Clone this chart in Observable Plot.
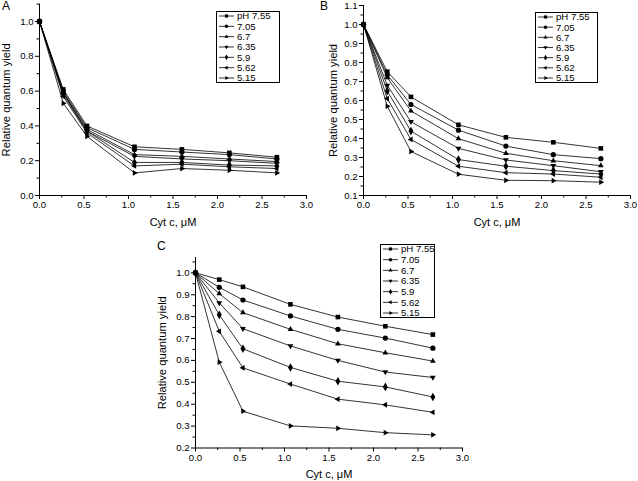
<!DOCTYPE html>
<html>
<head>
<meta charset="utf-8">
<script src="https://cdn.jsdelivr.net/npm/d3@7"></script>
<script src="https://cdn.jsdelivr.net/npm/@observablehq/plot@0.6"></script>
<style>
  html, body { margin: 0; padding: 0; background: #fff; }
  #wrap { position: relative; width: 638px; height: 481px; overflow: hidden; font-family: "Liberation Sans", Arial, sans-serif; }
  #wrap svg { position: absolute; overflow: visible; }
  .letter { position: absolute; font-size: 12px; color: #000; font-family: "Liberation Sans", Arial, sans-serif; }
</style>
</head>
<body>
<div id="wrap"></div>
<script>
// ---- data ----
const cytc = [0, 0.267, 0.533, 1.067, 1.6, 2.133, 2.667];
const seriesNames = ["pH 7.55", "7.05", "6.7", "6.35", "5.9", "5.62", "5.15"];

// Panel A (one row per series, in seriesNames order)
const yieldA_755 = [1.0, 0.61, 0.40, 0.28, 0.265, 0.245, 0.22];
const yieldA_705 = [1.0, 0.60, 0.39, 0.265, 0.25, 0.235, 0.21];
const yieldA_670 = [1.0, 0.59, 0.38, 0.235, 0.225, 0.21, 0.195];
const yieldA_635 = [1.0, 0.58, 0.37, 0.225, 0.21, 0.20, 0.185];
const yieldA_590 = [1.0, 0.59, 0.37, 0.19, 0.19, 0.175, 0.17];
const yieldA_562 = [1.0, 0.57, 0.36, 0.17, 0.18, 0.165, 0.155];
const yieldA_515 = [1.0, 0.53, 0.34, 0.13, 0.155, 0.145, 0.13];

// Panel B
const yieldB_755 = [1.0, 0.752, 0.619, 0.472, 0.406, 0.380, 0.348];
const yieldB_705 = [1.0, 0.735, 0.579, 0.444, 0.360, 0.315, 0.294];
const yieldB_670 = [1.0, 0.720, 0.545, 0.399, 0.322, 0.283, 0.257];
const yieldB_635 = [1.0, 0.680, 0.488, 0.348, 0.287, 0.257, 0.225];
const yieldB_590 = [1.0, 0.650, 0.439, 0.289, 0.254, 0.231, 0.213];
const yieldB_562 = [1.0, 0.610, 0.395, 0.254, 0.220, 0.213, 0.196];
const yieldB_515 = [1.0, 0.570, 0.332, 0.212, 0.180, 0.178, 0.170];

// Panel C
const yieldC_755 = [1.0, 0.969, 0.936, 0.856, 0.798, 0.756, 0.718];
const yieldC_705 = [1.0, 0.934, 0.876, 0.803, 0.742, 0.702, 0.656];
const yieldC_670 = [1.0, 0.905, 0.818, 0.742, 0.676, 0.635, 0.597];
const yieldC_635 = [1.0, 0.863, 0.745, 0.666, 0.600, 0.547, 0.522];
const yieldC_590 = [1.0, 0.808, 0.653, 0.568, 0.505, 0.479, 0.433];
const yieldC_562 = [1.0, 0.733, 0.566, 0.492, 0.423, 0.397, 0.363];
const yieldC_515 = [1.0, 0.592, 0.368, 0.301, 0.290, 0.270, 0.260];

const xMajor = [0, 0.5, 1, 1.5, 2, 2.5, 3];
const xMinor = [0.25, 0.75, 1.25, 1.75, 2.25, 2.75];
const yMajorA = [0, 0.2, 0.4, 0.6, 0.8, 1.0];
const yMinorA = [0.1, 0.3, 0.5, 0.7, 0.9, 1.1];
const yMajorB = [0.1, 0.2, 0.3, 0.4, 0.5, 0.6, 0.7, 0.8, 0.9, 1.0, 1.1];
const yMinorB = [0.15, 0.25, 0.35, 0.45, 0.55, 0.65, 0.75, 0.85, 0.95, 1.05];
const yMajorC = [0.2, 0.3, 0.4, 0.5, 0.6, 0.7, 0.8, 0.9, 1.0];
const yMinorC = [0.25, 0.35, 0.45, 0.55, 0.65, 0.75, 0.85, 0.95, 1.05];

// ---- symbols ----
const triDown = { draw(ctx, size) { const r = Math.sqrt(size) * 0.72; ctx.moveTo(0, r); ctx.lineTo(-r * 0.866, -r * 0.5); ctx.lineTo(r * 0.866, -r * 0.5); ctx.closePath(); } };
const triUp = { draw(ctx, size) { const r = Math.sqrt(size) * 0.72; ctx.moveTo(0, -r); ctx.lineTo(-r * 0.866, r * 0.5); ctx.lineTo(r * 0.866, r * 0.5); ctx.closePath(); } };
const triLeft = { draw(ctx, size) { const r = Math.sqrt(size) * 0.72; ctx.moveTo(-r, 0); ctx.lineTo(r * 0.5, -r * 0.866); ctx.lineTo(r * 0.5, r * 0.866); ctx.closePath(); } };
const triRight = { draw(ctx, size) { const r = Math.sqrt(size) * 0.72; ctx.moveTo(r, 0); ctx.lineTo(-r * 0.5, -r * 0.866); ctx.lineTo(-r * 0.5, r * 0.866); ctx.closePath(); } };
const symbols = [d3.symbolSquare, d3.symbolCircle, triUp, triDown, d3.symbolDiamond, triLeft, triRight];

function toRows(arrays) {
  const rows = [];
  arrays.forEach((ys, si) => ys.forEach((y, i) => rows.push({ s: si, x: cytc[i], y })));
  return rows;
}

const FONT = "Liberation Sans, Arial, sans-serif";
const fmt = d3.format(".1f");

function panel({ rows, yDomain, yMajor, yMinor, width, height, margins, left, top }) {
  const marks = [];
  marks.push(Plot.ruleX([0], { stroke: "#000", strokeWidth: 1 }));
  marks.push(Plot.ruleY([yDomain[0]], { stroke: "#000", strokeWidth: 1 }));
  marks.push(Plot.axisX({ ticks: xMajor, tickSize: 4, tickPadding: 2, tickFormat: fmt, fontSize: 9.6, label: null, stroke: "#000" }));
  marks.push(Plot.axisX({ ticks: xMinor, tickSize: 2.5, tickFormat: () => "", label: null, stroke: "#000" }));
  marks.push(Plot.axisY({ ticks: yMajor, tickSize: 4, tickPadding: 2, tickFormat: fmt, fontSize: 9.6, label: null, stroke: "#000" }));
  marks.push(Plot.axisY({ ticks: yMinor, tickSize: 2.5, tickFormat: () => "", label: null, stroke: "#000" }));
  for (let s = 0; s < seriesNames.length; s++) {
    const d = rows.filter(r => r.s === s);
    marks.push(Plot.line(d, { x: "x", y: "y", stroke: "#000", strokeWidth: 0.8 }));
    marks.push(Plot.dot(d, { x: "x", y: "y", symbol: symbols[s], r: 2.6, fill: "#000", stroke: "none" }));
  }
  marks.push(Plot.text(["Cyt c, \u03bcM"], { frameAnchor: "bottom", dy: 30, fontSize: 11, fill: "#000" }));
  marks.push(Plot.text(["Relative quantum yield"], { frameAnchor: "left", textAnchor: "middle", rotate: -90, dx: margins.yLabel, fontSize: 11.2, fill: "#000" }));
  const svg = Plot.plot({
    width, height,
    marginLeft: margins.left, marginRight: margins.right, marginTop: margins.top, marginBottom: margins.bottom,
    style: { fontFamily: FONT, color: "#000", background: "transparent" },
    x: { domain: [0, 3] },
    y: { domain: yDomain },
    marks
  });
  svg.style.left = left + "px";
  svg.style.top = top + "px";
  return svg;
}

function legend(container, x, y, w, h) {
  const svg = d3.select(container).append("svg")
    .attr("width", w + 2).attr("height", h + 2)
    .style("left", x + "px").style("top", y + "px");
  svg.append("rect").attr("x", 0.5).attr("y", 0.5).attr("width", w).attr("height", h)
    .attr("fill", "#fff").attr("stroke", "#000").attr("stroke-width", 1);
  const step = (h - 9) / (seriesNames.length - 1);
  seriesNames.forEach((name, i) => {
    const cy = 5 + i * step;
    svg.append("line").attr("x1", 3).attr("x2", 18).attr("y1", cy).attr("y2", cy).attr("stroke", "#000").attr("stroke-width", 0.8);
    svg.append("path").attr("d", d3.symbol().type(symbols[i]).size(10)()).attr("transform", `translate(10.5,${cy})`).attr("fill", "#000");
    svg.append("text").attr("x", 21).attr("y", cy).attr("dy", "0.35em").attr("font-size", 9.6).attr("font-family", FONT).text(name);
  });
}

const wrap = document.getElementById("wrap");

wrap.appendChild(panel({
  rows: toRows([yieldA_755, yieldA_705, yieldA_670, yieldA_635, yieldA_590, yieldA_562, yieldA_515]),
  yDomain: [0, 1.1], yMajor: yMajorA, yMinor: yMinorA,
  width: 318, height: 236, left: 0, top: 0,
  margins: { left: 39, right: 12, top: 3.6, bottom: 41, yLabel: -33 }
}));
wrap.appendChild(panel({
  rows: toRows([yieldB_755, yieldB_705, yieldB_670, yieldB_635, yieldB_590, yieldB_562, yieldB_515]),
  yDomain: [0.1, 1.1], yMajor: yMajorB, yMinor: yMinorB,
  width: 320, height: 236, left: 318, top: 0,
  margins: { left: 45, right: 8, top: 5, bottom: 41, yLabel: -30 }
}));
wrap.appendChild(panel({
  rows: toRows([yieldC_755, yieldC_705, yieldC_670, yieldC_635, yieldC_590, yieldC_562, yieldC_515]),
  yDomain: [0.2, 1.07], yMajor: yMajorC, yMinor: yMinorC,
  width: 330, height: 246, left: 150, top: 235,
  margins: { left: 45, right: 18, top: 22, bottom: 33.5, yLabel: -33 }
}));

legend(wrap, 216, 11, 63, 71);
legend(wrap, 535, 12, 62, 70);
legend(wrap, 380, 244, 54, 73);

[["A", 2, -1], ["B", 320, -1], ["C", 157, 239]].forEach(([t, x, y]) => {
  const d = document.createElement("div");
  d.className = "letter"; d.textContent = t;
  d.style.left = x + "px"; d.style.top = y + "px";
  wrap.appendChild(d);
});
</script>
</body>
</html>
